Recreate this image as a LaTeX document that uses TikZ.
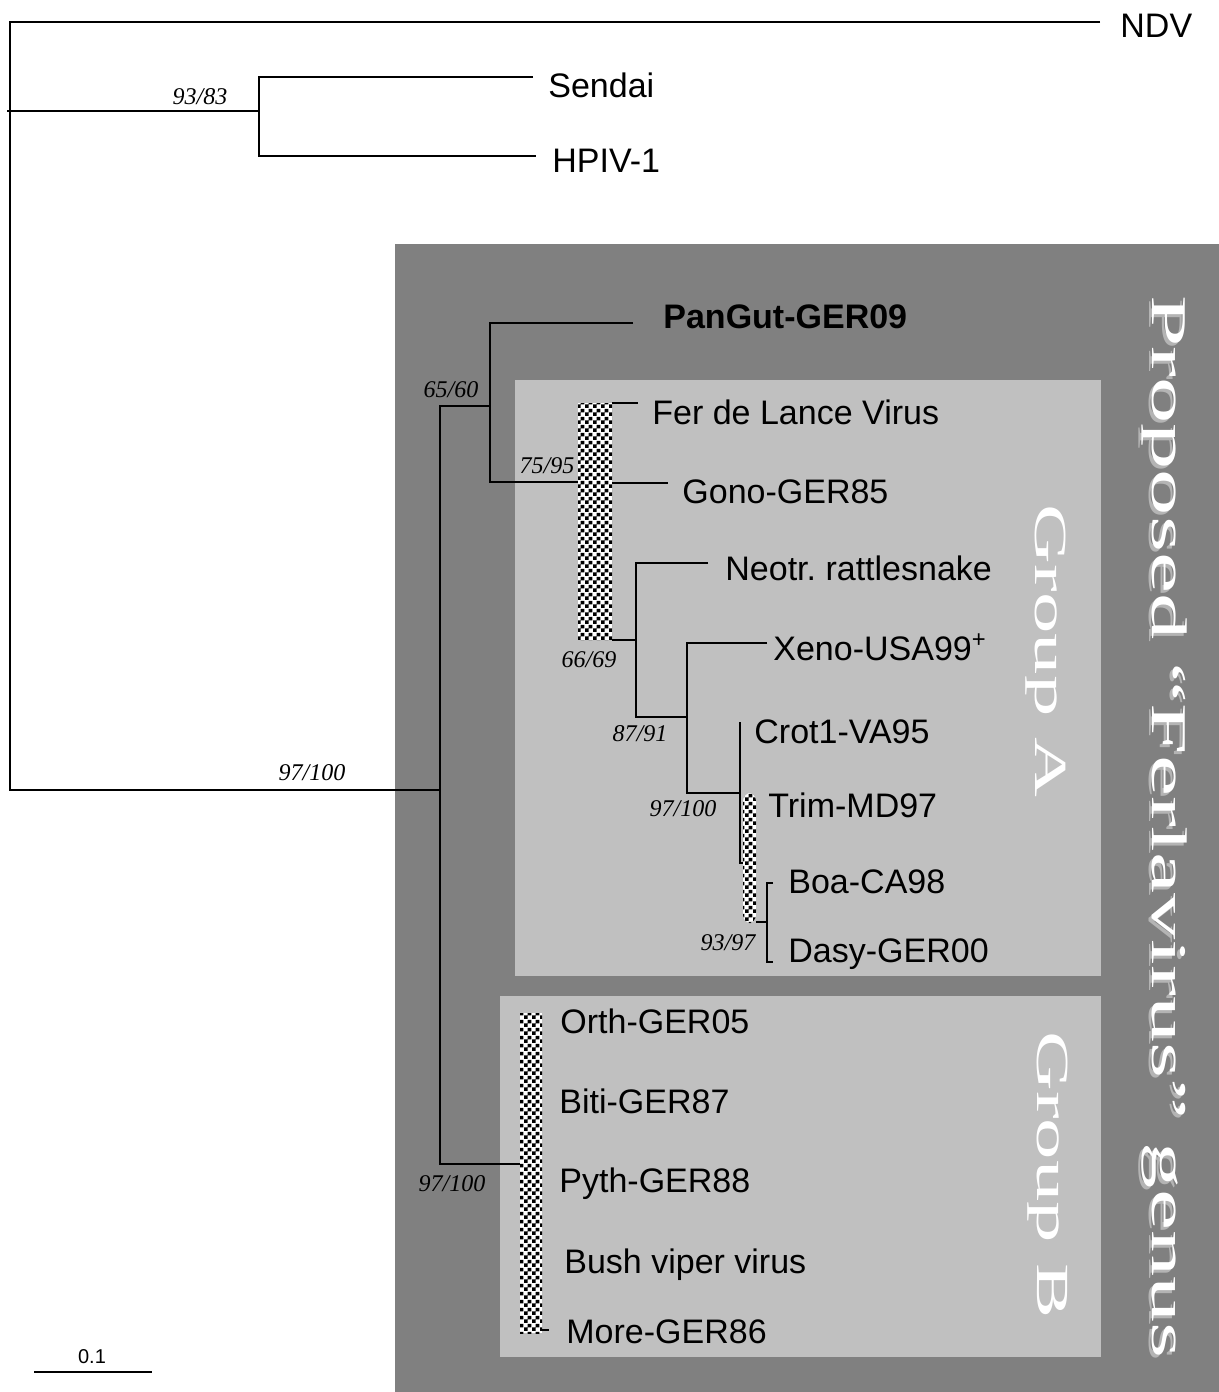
\documentclass[tikz,border=0pt]{standalone}
\usepackage{fontspec}
\setmainfont{Liberation Sans}
\newfontfamily\bootfont{Liberation Serif}
\newfontfamily\titelfont[FakeStretch=1.85]{Liberation Serif}
\newfontfamily\gruppenfont[FakeStretch=1.8]{Liberation Serif}
\usetikzlibrary{patterns.meta}

% Schachbrett-Muster fuer die Balken
\tikzdeclarepattern{
  name=schach,
  type=uncolored,
  bottom left={(0pt,0pt)},
  top right={(3.8pt,3.8pt)},
  tile size={(3.8pt,3.8pt)},
  code={
    \pgfpathrectangle{\pgfpointorigin}{\pgfqpoint{1.9pt}{1.9pt}}
    \pgfpathrectangle{\pgfqpoint{1.9pt}{1.9pt}}{\pgfqpoint{1.9pt}{1.9pt}}
    \pgfusepath{fill}
  }
}

\definecolor{dunkelgrau}{HTML}{808080}
\definecolor{hellgrau}{HTML}{C0C0C0}
\definecolor{schatten}{HTML}{B4B4B4}

\begin{document}
\begin{tikzpicture}[x=0.5pt, y=-0.5pt,
    ast/.style={line width=0.9pt, black},
    balken/.style={fill=white, postaction={pattern=schach, pattern color=black}},
    taxon/.style={anchor=base west, inner sep=0pt, font=\fontsize{17}{20}\selectfont},
    boot/.style={anchor=base, inner sep=0pt, font=\bootfont\itshape\fontsize{12}{14}\selectfont},
    titel/.style={anchor=base, inner sep=0pt, rotate=-90, font=\titelfont\fontsize{25}{30}\selectfont},
    gruppe/.style={anchor=base, inner sep=0pt, rotate=-90, text=white, font=\gruppenfont\fontsize{23}{28}\selectfont}
  ]
  \useasboundingbox (0,0) rectangle (1219,1392);

  % Hintergrundkaesten
  \fill[dunkelgrau] (395,244) rectangle (1219,1392);
  \fill[hellgrau] (515,380) rectangle (1101,976);
  \fill[hellgrau] (500,996) rectangle (1101,1357);

  % Beschriftung der Kaesten
  \node[titel, text=schatten] (titelschatten) at (1149,830) {Proposed “Ferlavirus” genus};
  \node[titel, text=white] (titel) at (1152,827) {Proposed “Ferlavirus” genus};
  \node[gruppe] (grA) at (1035,651) {Group A};
  \node[gruppe] (grB) at (1037,1175) {Group B};

  % Verzweigungspunkte und Astenden
  \coordinate (wurzel) at (10,790);
  \coordinate (t-ndv) at (1100,22);
  \coordinate (s-out) at (7,111);
  \coordinate (k-out) at (259,111);
  \coordinate (t-sendai) at (533,77);
  \coordinate (t-hpiv) at (536,156);
  \coordinate (k-ing) at (440,790);
  \coordinate (k-pan) at (490,406);
  \coordinate (t-pan) at (633,323);
  \coordinate (a-links) at (578,482);
  \coordinate (a-fer) at (612,403);
  \coordinate (t-fer) at (638,403);
  \coordinate (a-gono) at (612,483);
  \coordinate (t-gono) at (668,483);
  \coordinate (a-unten) at (612,640);
  \coordinate (k-neo) at (636,640);
  \coordinate (t-neo) at (708,563);
  \coordinate (k-xeno) at (687,717);
  \coordinate (t-xeno) at (767,643);
  \coordinate (k-crot) at (740,793);
  \coordinate (t-crot) at (740,722);
  \coordinate (k-trim) at (740,863);
  \coordinate (b-trim) at (743,863);
  \coordinate (b-boa) at (756,922);
  \coordinate (k-boa) at (767,922);
  \coordinate (t-boa) at (773,883);
  \coordinate (t-dasy) at (773,962);
  \coordinate (b-grB) at (520,1164);
  \coordinate (b-more) at (542,1330);
  \coordinate (t-more) at (549,1330);

  % Aeste
  \draw[ast] (t-ndv) -| (wurzel) -- (k-ing);
  \draw[ast] (s-out) -- (k-out);
  \draw[ast] (t-sendai) -| (k-out) |- (t-hpiv);
  \draw[ast] (k-pan) -| (k-ing) |- (b-grB);
  \draw[ast] (t-pan) -| (k-pan) |- (a-links);
  \draw[ast] (a-fer) -- (t-fer);
  \draw[ast] (a-gono) -- (t-gono);
  \draw[ast] (a-unten) -- (k-neo);
  \draw[ast] (t-neo) -| (k-neo) |- (k-xeno);
  \draw[ast] (t-xeno) -| (k-xeno) |- (k-crot);
  \draw[ast] (t-crot) -- (k-crot) -- (k-trim) -- (b-trim);
  \draw[ast] (b-boa) -- (k-boa);
  \draw[ast] (t-boa) -| (k-boa) |- (t-dasy);
  \draw[ast] (b-more) -- (t-more);

  % Schachbrett-Balken
  \path[balken] (578,403) rectangle (612,640);
  \path[balken, rounded corners=4pt] (743,793) rectangle (756,923);
  \path[balken] (520,1013) rectangle (542,1333);

  % Taxa
  \node[taxon] (ndv) at (1120,37) {NDV};
  \node[taxon] (sendai) at (548,97) {Sendai};
  \node[taxon] (hpiv) at (552,172) {HPIV-1};
  \node[taxon, font=\bfseries\fontsize{17}{20}\selectfont] (pangut) at (663,328) {PanGut-GER09};
  \node[taxon] (fer) at (652,424) {Fer de Lance Virus};
  \node[taxon] (gono) at (682,503) {Gono-GER85};
  \node[taxon] (neo) at (725,580) {Neotr.\ rattlesnake};
  \node[taxon] (xeno) at (773,660) {Xeno-USA99\textsuperscript{+}};
  \node[taxon] (crot) at (754,743) {Crot1-VA95};
  \node[taxon] (trim) at (768,817) {Trim-MD97};
  \node[taxon] (boa) at (788,893) {Boa-CA98};
  \node[taxon] (dasy) at (788,962) {Dasy-GER00};
  \node[taxon] (orth) at (560,1033) {Orth-GER05};
  \node[taxon] (biti) at (559,1113) {Biti-GER87};
  \node[taxon] (pyth) at (559,1192) {Pyth-GER88};
  \node[taxon] (bush) at (564,1273) {Bush viper virus};
  \node[taxon] (more) at (566,1343) {More-GER86};

  % Bootstrap-Werte
  \node[boot] (bs-out) at (200,104) {93/83};
  \node[boot] (bs-ing) at (312,780) {97/100};
  \node[boot] (bs-pan) at (451,397) {65/60};
  \node[boot] (bs-fer) at (547,473) {75/95};
  \node[boot] (bs-neo) at (589,667) {66/69};
  \node[boot] (bs-xeno) at (640,741) {87/91};
  \node[boot] (bs-crot) at (683,816) {97/100};
  \node[boot] (bs-boa) at (728,950) {93/97};
  \node[boot] (bs-grB) at (452,1191) {97/100};

  % Massstab
  \coordinate (m-l) at (34,1372);
  \coordinate (m-r) at (152,1372);
  \draw[ast] (m-l) -- (m-r);
  \node[anchor=base, inner sep=0pt, font=\fontsize{10}{12}\selectfont] (massstab) at (92,1363) {0.1};

\end{tikzpicture}
\end{document}
